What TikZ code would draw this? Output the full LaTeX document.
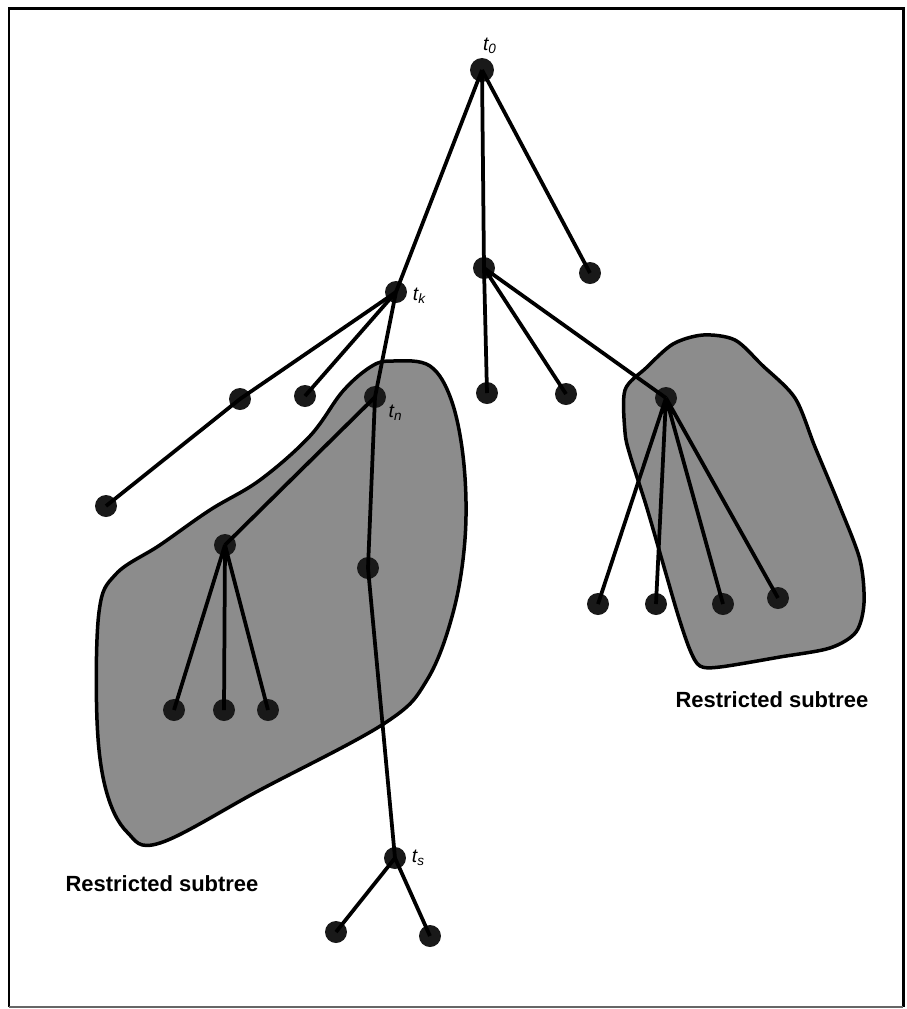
\documentclass[tikz,border=0pt]{standalone}
\usepackage{fontspec}
\newfontfamily\labelfont{Liberation Sans}
\usetikzlibrary{positioning}

\newcommand{\tsub}[1]{t\textsubscript{#1}}

\begin{document}
\begin{tikzpicture}[
    x=0.02cm, y=-0.02cm,
    dot/.style={circle, fill=black!90, inner sep=0pt, minimum size=0.44cm},
    edge/.style={line width=0.075cm},
    blob/.style={fill=black!45, draw=black, line width=0.07cm},
    tlbl/.style={font=\labelfont\itshape\fontsize{11}{12}\selectfont, inner sep=1pt},
    caption/.style={font=\labelfont\bfseries\fontsize{12.5}{14}\selectfont},
]
\useasboundingbox (0,0) rectangle (907,1009);
\draw[line width=0.06cm] (9,1007) -- (9,8) -- (903,8) -- (903,1007);
\draw[black!60, line width=0.03cm] (9,1007) -- (903,1007);

% restricted subtrees
\draw[blob] plot[smooth cycle, tension=0.6] coordinates {
    (393,361) (430,366) (452,402) (464,465) (465,539) (453,613) (427,680)
    (385,723) (260,790) (160,843) (127,832) (106,790) (97,720) (99,612)
    (116,574) (160,545) (210,510) (260,480) (310,436) (343,391) (372,366)};
\draw[blob] plot[smooth cycle, tension=0.5] coordinates {
    (625,390) (646,368) (673,344) (703,335) (735,340) (762,365)
    (795,398) (815,447) (840,507) (860,560) (864,603) (856,632) (830,648)
    (780,657) (720,667) (700,666) (690,650) (678,615) (662,560) (646,505)
    (630,455) (625,432)};

% nodes
\node[dot, minimum size=0.48cm] (t0) at (482,70) {};
\node[dot] (tk) at (396,292) {};
\node[dot] (b)  at (484,268) {};
\node[dot] (c)  at (590,273) {};
\node[dot] (a1) at (240,399) {};
\node[dot] (a2) at (106,506) {};
\node[dot] (a3) at (305,396) {};
\node[dot] (tn) at (375,397) {};
\node[dot] (m)  at (225,545) {};
\node[dot] (p)  at (368,568) {};
\node[dot] (l1) at (174,710) {};
\node[dot] (l2) at (224,710) {};
\node[dot] (l3) at (268,710) {};
\node[dot] (ts) at (395,858) {};
\node[dot] (s1) at (336,932) {};
\node[dot] (s2) at (430,936) {};
\node[dot] (b1) at (487,393) {};
\node[dot] (b2) at (566,394) {};
\node[dot] (rh) at (666,398) {};
\node[dot] (r1) at (598,604) {};
\node[dot] (r2) at (656,604) {};
\node[dot] (r3) at (723,604) {};
\node[dot] (r4) at (778,598) {};

% edges
\draw[edge] (t0.center) -- (tk.center) (t0.center) -- (b.center) (t0.center) -- (c.center);
\draw[edge] (tk.center) -- (a1.center) -- (a2.center);
\draw[edge] (tk.center) -- (a3.center) (tk.center) -- (tn.center);
\draw[edge] (tn.center) -- (m.center) (tn.center) -- (p.center) -- (ts.center);
\draw[edge] (m.center) -- (l1.center) (m.center) -- (l2.center) (m.center) -- (l3.center);
\draw[edge] (ts.center) -- (s1.center) (ts.center) -- (s2.center);
\draw[edge] (b.center) -- (b1.center) (b.center) -- (b2.center) (b.center) -- (rh.center);
\draw[edge] (rh.center) -- (r1.center) (rh.center) -- (r2.center)
    (rh.center) -- (r3.center) (rh.center) -- (r4.center);

% labels
\node[tlbl] (lt0) at (490,46) {\tsub{0}};
\node[tlbl, right=2pt of tk, yshift=-2pt] (ltk) {\tsub{k}};
\node[tlbl, below right=-1pt and 2pt of tn] (ltn) {\tsub{n}};
\node[tlbl, right=2pt of ts] (lts) {\tsub{s}};
\node[caption] (cap1) at (162,884) {Restricted subtree};
\node[caption] (cap2) at (772,700) {Restricted subtree};
\end{tikzpicture}
\end{document}
